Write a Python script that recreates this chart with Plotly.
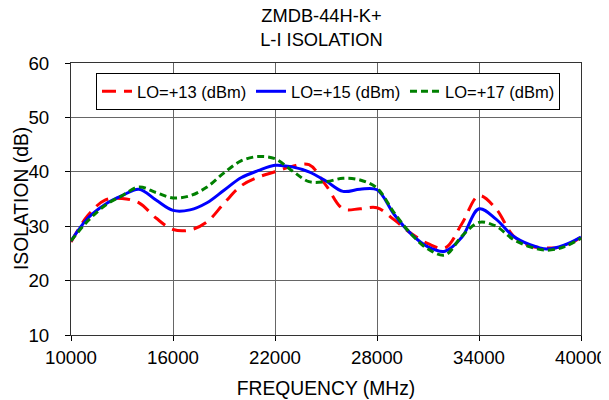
import plotly.graph_objects as go

freq = [10000, 11000, 12000, 13000, 14000, 15000, 16000, 17000, 18000, 19000,
        20000, 21000, 22000, 23000, 24000, 25000, 26000, 27000, 28000, 29000,
        30000, 31000, 32000, 33000, 34000, 35000, 36000, 37000, 38000, 39000, 40000]

lo13 = [27.1, 32.0, 34.8, 35.1, 34.3, 31.5, 29.4, 29.3, 30.8, 34.2,
        37.4, 39.0, 40.0, 41.0, 41.3, 37.5, 33.2, 33.2, 33.4, 31.2,
        28.7, 26.8, 26.0, 30.5, 35.6, 33.2, 28.3, 26.4, 26.0, 26.3, 28.0]

lo15 = [27.3, 31.5, 34.0, 35.6, 36.8, 34.8, 32.9, 33.0, 34.3, 36.6,
        38.9, 40.2, 41.2, 40.9, 40.0, 38.3, 36.4, 36.8, 36.7, 32.2,
        28.6, 26.2, 25.4, 28.0, 33.2, 31.3, 28.2, 26.6, 25.8, 26.5, 28.0]

lo17 = [27.3, 31.0, 33.8, 35.6, 37.2, 36.2, 35.2, 35.6, 37.2, 39.8,
        42.0, 42.8, 42.4, 40.2, 38.2, 38.2, 38.8, 38.5, 37.0, 32.5,
        28.6, 25.8, 24.7, 28.2, 30.7, 30.0, 27.6, 26.2, 25.6, 26.2, 27.8]

names = ["LO=+13 (dBm)", "LO=+15 (dBm)", "LO=+17 (dBm)"]
x_ticks = [10000, 16000, 22000, 28000, 34000, 40000]
y_ticks = [10, 20, 30, 40, 50, 60]

fig = go.Figure()
fig.add_trace(go.Scatter(x=freq, y=lo13, name=names[0], mode="lines",
                         line=dict(color="#ff0000", width=3, dash="14px,8px", shape="spline", smoothing=1.0)))
fig.add_trace(go.Scatter(x=freq, y=lo15, name=names[1], mode="lines",
                         line=dict(color="#0000ff", width=3, shape="spline", smoothing=1.0)))
fig.add_trace(go.Scatter(x=freq, y=lo17, name=names[2], mode="lines",
                         line=dict(color="#008000", width=3, dash="7px,4px", shape="spline", smoothing=1.0)))

font = "Arial, Liberation Sans, sans-serif"
fig.update_layout(
    width=601, height=392,
    margin=dict(l=63, r=28, t=55, b=65),
    paper_bgcolor="white", plot_bgcolor="white",
    font=dict(family=font, color="black", size=18.7),
    title=dict(text="ZMDB-44H-K+<br>L-I ISOLATION", x=0.5216, xanchor="center",
               yref="paper", y=1, yanchor="bottom", pad=dict(b=41),
               font=dict(size=18.3, family=font)),
    legend=dict(orientation="h", x=0.049, y=0.963, xanchor="left", yanchor="top",
                bordercolor="black", borderwidth=1, bgcolor="white",
                font=dict(size=16.5, family=font), itemwidth=30, tracegroupgap=0,
                entrywidth=109, entrywidthmode="pixels"),
    showlegend=True,
    annotations=[dict(text="ISOLATION (dB)", textangle=-90, xref="paper", yref="paper",
                      x=-0.098, y=0.5, xanchor="center", yanchor="middle",
                      showarrow=False, font=dict(size=19.3, family=font))],
)
fig.update_xaxes(range=[10000, 40000], tickvals=x_ticks, ticktext=[str(v) for v in x_ticks],
                 showgrid=True, gridcolor="#666666", gridwidth=1,
                 showline=True, linecolor="#333333", linewidth=1, mirror=True,
                 ticks="outside", ticklen=5, tickcolor="black", zeroline=False,
                 ticklabelstandoff=1, automargin=False,
                 title=dict(text="FREQUENCY (MHz)", standoff=14, font=dict(size=19.3)),
                 tickfont=dict(size=18.7))
fig.update_yaxes(range=[10, 60], tickvals=y_ticks,
                 showgrid=True, gridcolor="#666666", gridwidth=1,
                 showline=True, linecolor="#333333", linewidth=1, mirror=True,
                 ticks="outside", ticklen=5, tickcolor="black", zeroline=False,
                 ticklabelstandoff=12, automargin=False,
                 tickfont=dict(size=18.7))

fig.write_html("out.html")
